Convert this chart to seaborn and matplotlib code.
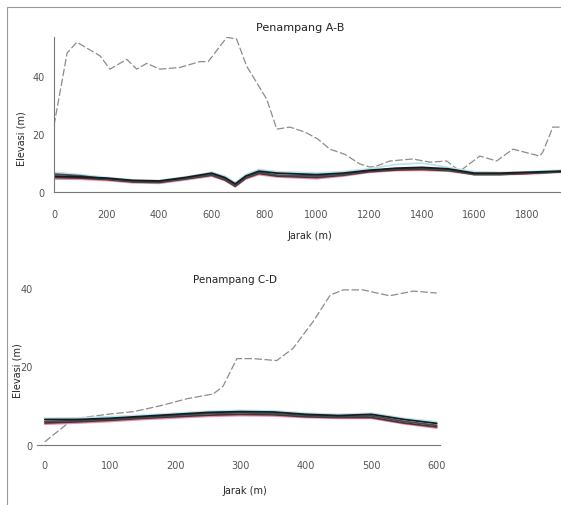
import matplotlib
matplotlib.use("Agg")
import matplotlib.pyplot as plt
import seaborn as sns
from matplotlib.patches import Rectangle

# Penampang A-B
jarak_ab = [0, 50, 87, 175, 213, 277, 315, 353, 403, 480, 555, 587, 658, 695, 733, 810,
            848, 898, 955, 1004, 1050, 1107, 1164, 1202, 1229, 1278, 1366, 1431, 1495,
            1545, 1621, 1685, 1747, 1849, 1861, 1899, 1930]
tanah_ab = [23, 48, 51.7, 47, 42.4, 45.8, 42.4, 44.4, 42.4, 43, 45, 45, 53.4, 52.8, 43.5, 32,
            21.7, 22.4, 20.7, 18.3, 14.8, 13, 9.7, 8.6, 9, 10.7, 11.4, 10.3, 10.7,
            7.2, 12.4, 10.7, 14.8, 12.4, 13.8, 22.4, 22.4]

jarak_ab2 = [0, 100, 200, 300, 400, 500, 600, 650, 690, 730, 780, 850, 1000, 1100, 1200,
             1300, 1400, 1500, 1600, 1700, 1800, 1930]
mat_ab_1 = [5.5, 5.2, 4.8, 4.0, 3.8, 5.0, 6.5, 5.0, 2.8, 5.5, 7.2, 6.5, 6.0, 6.5, 7.5,
            8.2, 8.5, 8.0, 6.5, 6.5, 6.8, 7.2]
mat_ab_2 = [6.2, 5.6, 4.5, 3.6, 3.5, 4.6, 6.0, 4.5, 2.3, 5.0, 6.8, 5.8, 5.5, 6.0, 7.3,
            8.0, 8.2, 7.6, 6.0, 6.0, 6.5, 7.0]
mat_ab_3 = [5.0, 4.8, 4.3, 3.5, 3.3, 4.5, 5.8, 4.2, 2.0, 4.8, 6.4, 5.5, 5.0, 5.8, 7.0,
            7.6, 7.8, 7.4, 6.2, 6.2, 6.4, 7.0]
mat_ab_4 = [4.5, 4.4, 4.0, 3.2, 3.0, 4.2, 5.5, 4.0, 1.8, 4.5, 6.0, 5.2, 4.6, 5.5, 6.8,
            7.4, 7.5, 7.2, 6.0, 6.0, 6.2, 6.8]
mat_ab_5 = [6.8, 6.0, 5.0, 4.2, 4.0, 5.2, 6.8, 5.5, 3.2, 6.0, 7.8, 7.0, 6.6, 7.0, 8.0,
            9.5, 10.0, 8.5, 7.0, 6.8, 7.0, 7.5]
tick_ab = [0, 200, 400, 600, 800, 1000, 1200, 1400, 1600, 1800]

# Penampang C-D
jarak_cd = [0, 5, 44, 100, 136, 177, 218, 258, 273, 294, 319, 355, 380, 411, 437, 457,
            487, 528, 564, 600]
tanah_cd = [0.8, 1.5, 6.7, 7.9, 8.5, 10, 11.8, 13, 15, 22, 22, 21.5, 24.6, 31.5, 38.2,
            39.5, 39.5, 38, 39.2, 38.7]

jarak_cd2 = [0, 50, 100, 150, 200, 250, 300, 350, 400, 450, 500, 550, 600]
mat_cd_1 = [6.5, 6.5, 6.8, 7.3, 7.8, 8.3, 8.5, 8.4, 7.8, 7.5, 7.8, 6.5, 5.5]
mat_cd_2 = [6.0, 6.2, 6.6, 7.0, 7.5, 8.0, 8.2, 8.0, 7.5, 7.2, 7.4, 6.0, 5.0]
mat_cd_3 = [5.6, 5.9, 6.3, 6.8, 7.2, 7.6, 7.8, 7.7, 7.2, 7.0, 7.0, 5.6, 4.6]
mat_cd_4 = [5.3, 5.6, 6.0, 6.5, 6.9, 7.3, 7.5, 7.4, 7.0, 6.8, 6.8, 5.4, 4.3]
mat_cd_5 = [6.8, 6.9, 7.2, 7.6, 8.1, 8.6, 8.8, 8.7, 8.1, 7.8, 8.1, 6.8, 5.9]
tick_cd = [0, 100, 200, 300, 400, 500, 600]

sns.set_style("white")
plt.rcParams['font.family'] = ['DejaVu Sans']

fig = plt.figure(figsize=(5.61, 5.06), dpi=100)
# bingkai tipis di sekeliling gambar
fig.patches.append(Rectangle((7 / 561, -0.01), 1.0, 1 - 8 / 506 + 0.01,
                             transform=fig.transFigure, fill=False,
                             edgecolor='#999999', linewidth=0.8))

warna = ['#1a1a1a', '#4a4a4a', '#5a2a3a', '#d89aaa', '#b8e4f2']


def gambar(ax, x, tanah, x2, mats):
    sns.lineplot(x=x, y=tanah, ax=ax, color='#8c8c8c', linestyle=(0, (6, 2)),
                 linewidth=0.9, sort=False)
    for m, c in zip(mats[::-1], warna[::-1]):
        sns.lineplot(x=x2, y=m, ax=ax, color=c, linewidth=1.3, sort=False)


def rapikan(ax, spines):
    for s in ['top', 'right', 'left', 'bottom']:
        ax.spines[s].set_visible(s in spines)
        ax.spines[s].set_color('#777777')
        ax.spines[s].set_linewidth(0.8)
    ax.tick_params(axis='both', labelsize=7, length=3, width=0.8,
                   colors='#555555', direction='out')


# panel atas
ax1 = fig.add_axes([54 / 561, 1 - 193 / 506, 1 - 54 / 561, (193 - 38) / 506])
gambar(ax1, jarak_ab, tanah_ab, jarak_ab2,
       [mat_ab_1, mat_ab_2, mat_ab_3, mat_ab_4, mat_ab_5])
ax1.set_xlim(0, 1930)
ax1.set_ylim(0, 53.5)
ax1.set_xticks(tick_ab)
ax1.set_yticks([0, 20, 40])
ax1.text((300 - 54) / 507, (193 - 28) / 155, 'Penampang A-B', transform=ax1.transAxes,
         ha='center', va='center', fontsize=8, color='#222222')
ax1.set_xlabel('Jarak (m)', fontsize=7)
ax1.xaxis.set_label_coords((310 - 54) / 507, -(231 - 193) / 155)
ax1.set_ylabel('Elevasi (m)', fontsize=7)
ax1.yaxis.set_label_coords((27 - 54) / 507, 0.35)
rapikan(ax1, ['left', 'bottom'])
ax1.tick_params(axis='x', pad=9)

# panel bawah
ax2 = fig.add_axes([37 / 561, 1 - 446 / 506, (440 - 37) / 561, (446 - 285) / 506])
gambar(ax2, jarak_cd, tanah_cd, jarak_cd2,
       [mat_cd_1, mat_cd_2, mat_cd_3, mat_cd_4, mat_cd_5])
ax2.set_xlim(-12, 605)
ax2.set_ylim(0, 41)
ax2.set_xticks(tick_cd)
ax2.set_yticks([0, 20, 40])
ax2.text((235 - 37) / 403, (446 - 280) / 161, 'Penampang C-D', transform=ax2.transAxes,
         ha='center', va='center', fontsize=7.5, color='#222222')
ax2.set_xlabel('Jarak (m)', fontsize=7)
ax2.xaxis.set_label_coords((245 - 37) / 403, -(486 - 446) / 161)
ax2.set_ylabel('Elevasi (m)', fontsize=7)
ax2.yaxis.set_label_coords((22 - 37) / 403, 0.47)
rapikan(ax2, ['bottom'])
ax2.tick_params(axis='x', pad=8)
ax2.tick_params(axis='y', pad=1, length=2)

plt.savefig('out.png', dpi=100)
plt.close()
